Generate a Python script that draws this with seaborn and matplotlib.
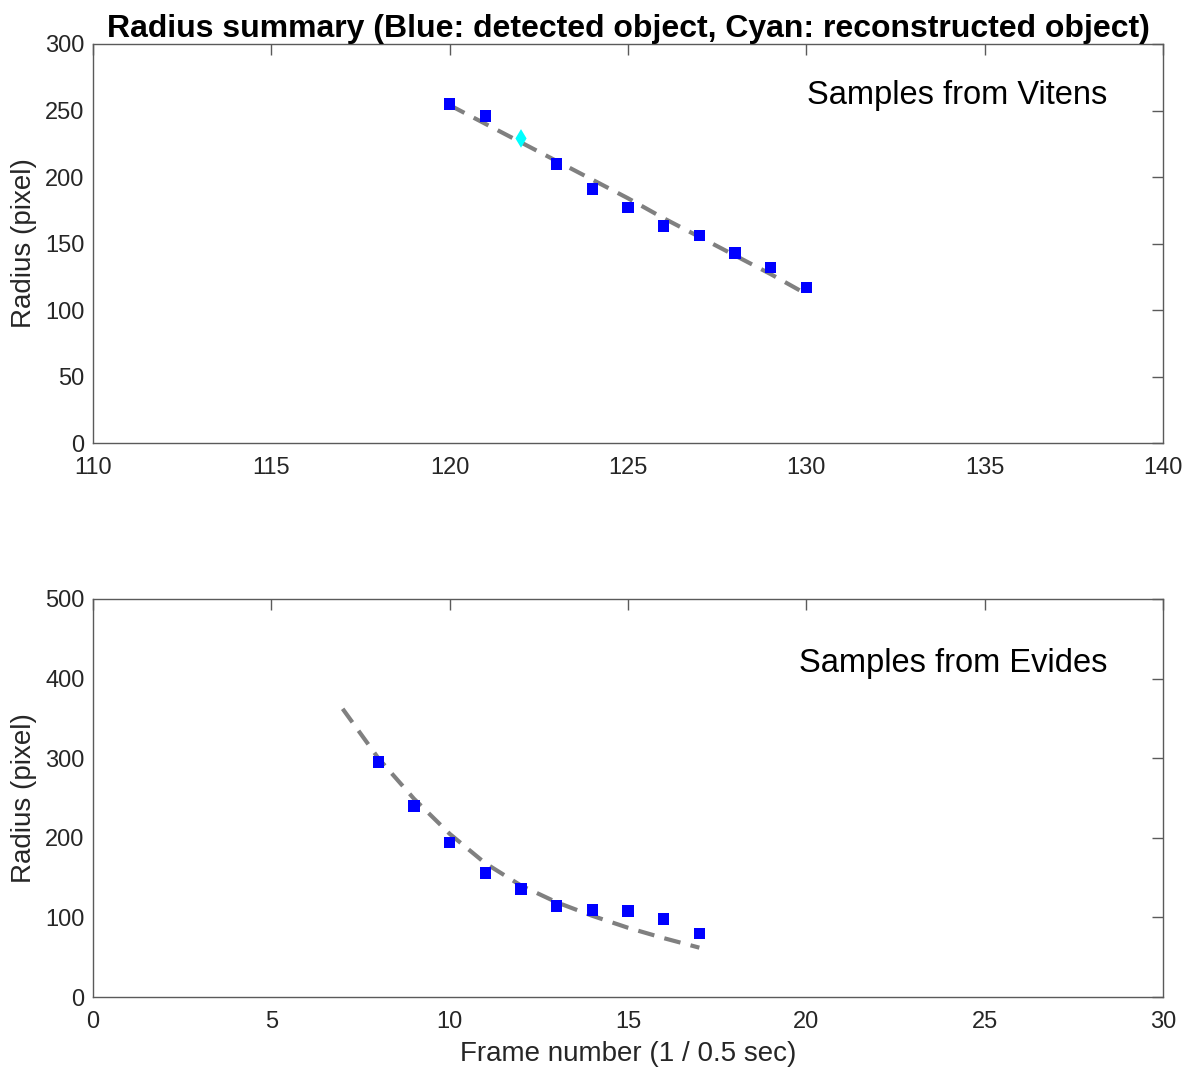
import seaborn as sns
from matplotlib import pyplot as plt
import numpy as np

# top panel: Vitens
vitens_frames = [120, 121, 123, 124, 125, 126, 127, 128, 129, 130]
vitens_radius = [255, 246, 210, 191, 177, 163, 156, 143, 132, 117]
vitens_recon_frames = [122]
vitens_recon_radius = [229]
vitens_fit_frames = [120, 121, 122, 123, 124, 125, 126, 127, 128, 129, 130]
vitens_fit_radius = [254, 240, 226, 212, 198, 184, 169, 155, 141, 127, 112]

# bottom panel: Evides
evides_frames = [8, 9, 10, 11, 12, 13, 14, 15, 16, 17]
evides_radius = [295, 240, 194, 156, 136, 114, 109, 108, 98, 80]
evides_fit_frames = [7, 8, 9, 10, 11, 12, 13, 14, 15, 16, 17]
evides_fit_radius = [362, 300, 249, 205, 168, 140, 119, 102, 87, 74, 62]

sns.set_style('white')
plt.rcParams['font.family'] = ['Liberation Sans', 'DejaVu Sans']

fig = plt.figure(figsize=(11.92, 10.73), dpi=100)
ax1 = fig.add_axes([0.078, 0.5871, 0.8977, 0.3719])
ax2 = fig.add_axes([0.078, 0.0708, 0.8977, 0.3710])

axis_col = '#5a5a5a'
text_col = '#262626'


def panel(ax, fx, fy, x, y, label, ty, xlim, ylim, yticks):
    sns.lineplot(x=fx, y=fy, ax=ax, color='#808080', lw=3,
                 linestyle=(0, (4, 2.5)), zorder=2)
    sns.scatterplot(x=x, y=y, ax=ax, marker='s', color='#0000ff', s=70,
                    edgecolor='none', zorder=3)
    ax.set_xlim(*xlim)
    ax.set_ylim(*ylim)
    ax.set_yticks(yticks)
    ax.tick_params(direction='in', length=8, width=1, colors=axis_col,
                   labelcolor=text_col, labelsize=17, top=True, right=True,
                   pad=6)
    ax.tick_params(axis='x', pad=10)
    for s in ax.spines.values():
        s.set_color(axis_col)
        s.set_linewidth(1)
    ax.set_ylabel('Radius (pixel)', fontsize=20, color=text_col, labelpad=6)
    ax.text(0.948, ty, label, transform=ax.transAxes, ha='right',
            va='center', fontsize=23.5, color='black')


panel(ax1, vitens_fit_frames, vitens_fit_radius, vitens_frames, vitens_radius,
      'Samples from Vitens', 0.872, (110, 140), (0, 300), range(0, 301, 50))
sns.scatterplot(x=vitens_recon_frames, y=vitens_recon_radius, ax=ax1,
                marker='d', color='#00ffff', s=90, edgecolor='none', zorder=3)
ax1.set_xticks(range(110, 141, 5))
ax1.set_title('Radius summary (Blue: detected object, Cyan: reconstructed object)',
              fontsize=23, fontweight='bold', pad=5, color='black')

panel(ax2, evides_fit_frames, evides_fit_radius, evides_frames, evides_radius,
      'Samples from Evides', 0.839, (0, 30), (0, 500), range(0, 501, 100))
ax2.set_xticks(range(0, 31, 5))
ax2.set_xlabel('Frame number (1 / 0.5 sec)', fontsize=20, color=text_col,
               labelpad=6)

fig.savefig('out.png')
